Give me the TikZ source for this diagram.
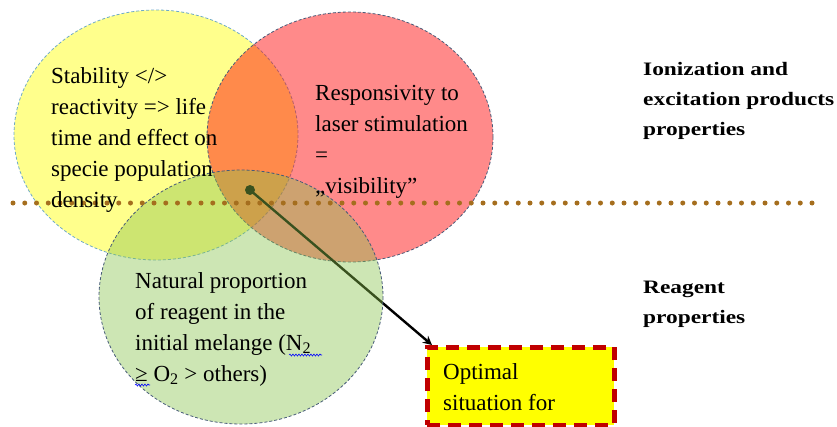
\documentclass[tikz,border=0pt]{standalone}
\usepackage{fontspec}
\setmainfont{Liberation Serif}
\usepackage{graphicx}
\usetikzlibrary{decorations.pathmorphing,arrows.meta}
\definecolor{yelfill}{RGB}{255,255,140}
\definecolor{redfill}{RGB}{255,0,0}
\definecolor{grnfill}{RGB}{136,195,76}
\definecolor{edgeblue}{RGB}{70,90,120}
\definecolor{edgelight}{RGB}{110,170,200}
\definecolor{dotbrown}{RGB}{165,110,30}
\definecolor{boxred}{RGB}{192,0,0}
\definecolor{boxyel}{RGB}{255,255,0}
\tikzset{
  venn/.style={line width=0.8pt, dash pattern=on 3pt off 2pt},
  txt/.style={anchor=base west, inner sep=0pt, font=\fontsize{23}{31}\selectfont},
  lbl/.style={anchor=base west, inner sep=0pt, font=\fontsize{19}{30}\selectfont\bfseries},
  wavy/.style={blue, line width=0.6pt, decorate, decoration={snake, amplitude=1pt, segment length=3pt}}
}
\begin{document}
\begin{tikzpicture}[x=1pt,y=-1pt]
\useasboundingbox (0,0) rectangle (837,426);
\clip (0,0) rectangle (837,426);
% circles
\draw[venn, edgelight, fill=yelfill] (156,135) ellipse [x radius=142, y radius=125];
\fill[redfill, fill opacity=0.46] (350,137) ellipse [x radius=143, y radius=125];
\draw[venn, edgeblue] (350,137) ellipse [x radius=143, y radius=125];
% connector (under the green circle)
\coordinate (dot) at (250,190);
\node[draw=boxred, line width=4.5pt, dash pattern=on 13pt off 8pt, fill=boxyel,
      minimum width=187pt, minimum height=78pt, anchor=north west, inner sep=0pt] (box) at (425,345) {};
\draw[black, line width=2.4pt, -{Stealth[length=9pt,width=9pt]}] (dot) -- ([xshift=7pt]box.north west);
\fill[black] (dot) circle (5pt);
\fill[grnfill, fill opacity=0.42] (241,297) ellipse [x radius=142, y radius=127];
\draw[venn, edgeblue] (241,297) ellipse [x radius=142, y radius=127];
% dotted separator
\coordinate (sepL) at (13,203);
\coordinate (sepR) at (818,203);
\draw[dotbrown, line width=5pt, line cap=round, dash pattern=on 0pt off 11.75pt] (sepL) -- (sepR);
% texts
\node[txt] (tyel) at (51,83) {\begin{tabular}[t]{@{}l@{}}Stability </>\\reactivity => life\\time and effect on\\specie population\\density\end{tabular}};
\node[txt] (tred) at (315,100) {\begin{tabular}[t]{@{}l@{}}Responsivity to\\laser stimulation\\=\\„visibility”\end{tabular}};
\node[txt] (tgrn) at (135,288) {\begin{tabular}[t]{@{}l@{}}Natural proportion\\of reagent in the\\initial melange (N\textsubscript{2}\\≥ O\textsubscript{2} > others)\end{tabular}};
\node[txt] (tbox) at (443,379) {\begin{tabular}[t]{@{}l@{}}Optimal\\situation for\end{tabular}};
\node[lbl] (lion) at (643,75) {\scalebox{1.23}[1]{\begin{tabular}[t]{@{}l@{}}Ionization and\\excitation products\\properties\end{tabular}}};
\node[lbl] (lrea) at (643,293) {\scalebox{1.23}[1]{\begin{tabular}[t]{@{}l@{}}Reagent\\properties\end{tabular}}};
% spell-check underlines
\coordinate (w1a) at (289,355); \coordinate (w1b) at (322,355);
\coordinate (w2a) at (135,385); \coordinate (w2b) at (150,385);
\draw[wavy] (w1a) -- (w1b);
\draw[wavy] (w2a) -- (w2b);
\end{tikzpicture}
\end{document}
